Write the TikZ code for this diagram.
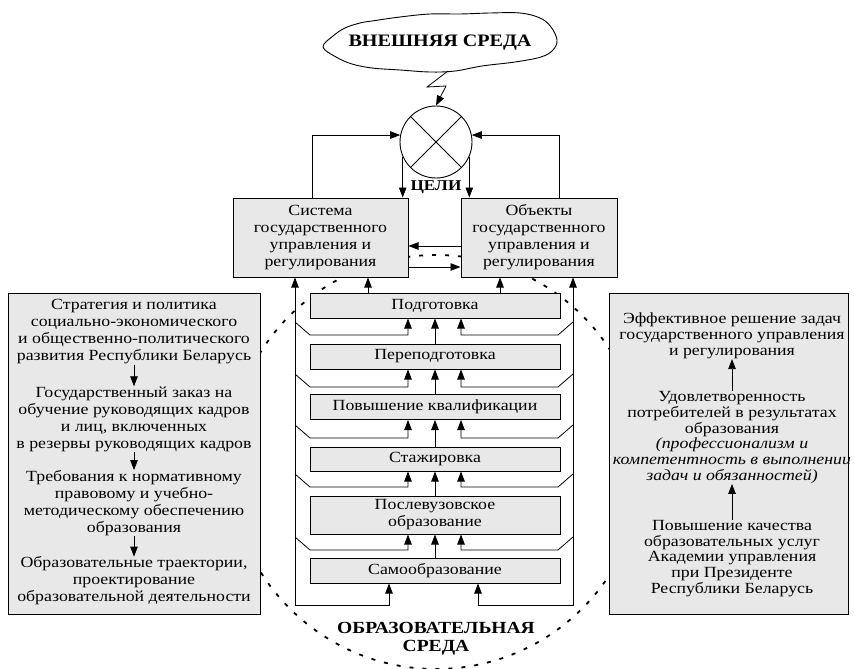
\documentclass[tikz,border=0pt]{standalone}
\usepackage{fontspec}
\setmainfont{Liberation Serif}[FakeStretch=1.15]
\usetikzlibrary{arrows.meta}
\newcommand\bodyfs{\fontsize{15.5}{17}\selectfont}
\newcommand\rightfs{\fontsize{15.5}{15.8}\selectfont}
\begin{document}
\begin{tikzpicture}[x=1pt,y=-1pt,
  ln/.style={line width=0.8pt},
  arr/.style={ln,-{Triangle[length=10pt,width=7.5pt]}},
  gbox/.style={draw,line width=1pt,fill=black!9,inner sep=0pt,align=center,font=\bodyfs},
  cbox/.style={gbox,minimum width=250pt,minimum height=25pt},
  txt/.style={inner sep=0pt,align=center,font=\bodyfs},
  rtxt/.style={inner sep=0pt,align=center,font=\rightfs},
  envdash/.style={line width=1.8pt,dash pattern=on 4pt off 9pt}]
\useasboundingbox (0,0) rectangle (854,669);

% educational environment (dashed circle)
\draw[envdash] (436,462) circle (207pt);

% external environment cloud
\draw[line width=0.9pt] plot[smooth cycle, tension=0.6] coordinates {(323,47) (333,36) (345,28) (360,23) (372,21) (400,17) (430,14) (460,14) (490,13) (520,13) (540,18) (551,27) (557,40) (553,50) (541,57) (515,62) (482,66) (455,71) (430,72) (400,70) (372,68) (352,64) (336,57)};
\node[font=\fontsize{17.5}{20}\selectfont\bfseries] (env) at (440,43) {ВНЕШНЯЯ СРЕДА};
\coordinate (cb) at (448,71);

% comparison circle
\node[draw,circle,minimum size=72pt,inner sep=0pt,line width=0.9pt] (cmp) at (436,142) {};
\draw[ln] (cmp.45) -- (cmp.225);
\draw[ln] (cmp.135) -- (cmp.315);
\draw[arr] (cb) -- (427,87) -- (446,86) -- (cmp.north);

% top boxes
\node[gbox,minimum width=175pt,minimum height=79pt] (sys) at (320.5,237.5) {Система\\государственного\\управления и\\регулирования};
\node[gbox,minimum width=156pt,minimum height=79pt] (obj) at (539,237.5) {Объекты\\государственного\\управления и\\регулирования};

\draw[arr] ([xshift=-8.5pt]sys.north) |- (cmp.169);
\draw[arr] ([xshift=20pt]obj.north) |- (cmp.11);
\draw[arr] (cmp.204) -- (cmp.204 |- sys.north);
\draw[arr] (cmp.336) -- (cmp.336 |- obj.north);
\node[font=\fontsize{15}{17}\selectfont\bfseries] (goals) at (436,187) {ЦЕЛИ};

\draw[arr] ([yshift=-8.5pt]obj.west) -- ([yshift=-8.5pt]sys.east);
\draw[arr] ([yshift=-29.5pt]sys.east) -- ([yshift=-29.5pt]obj.west);

% central column
\node[cbox] (c1) at (435,305.5) {Подготовка};
\node[cbox] (c2) at (435,356.5) {Переподготовка};
\node[cbox] (c3) at (435,407) {Повышение квалификации};
\node[cbox,minimum height=24pt] (c4) at (435,459) {Стажировка};
\node[cbox,minimum height=38pt] (c5) at (435,515) {Послевузовское\\образование};
\node[cbox] (c6) at (435,570.5) {Самообразование};

\coordinate (fl) at (295,605);
\coordinate (fr) at (573,605);
\coordinate (bl) at (389,605);
\coordinate (br) at (478,605);
\draw[arr] (bl) -- (fl) -- (fl |- sys.south);
\draw[arr] (fl) -- (bl) -- (bl |- c6.south);
\draw[arr] (br) -- (fr) -- (fr |- obj.south);
\draw[arr] (fr) -- (br) -- (br |- c6.south);

\foreach \u/\l/\g in {c1/c2/335, c2/c3/387, c3/c4/438, c4/c5/487, c5/c6/550} {
  \draw[arr] (295,\g-13) -- (310,\g) -| ([xshift=-27pt]\u.south);
  \draw[arr] (573,\g-13) -- (558,\g) -| ([xshift=26pt]\u.south);
  \draw[arr] (\l.north) -- (\u.south);
}
\draw[arr] ([xshift=-67pt]c1.north) -- ([xshift=-67pt]c1.north |- sys.south);
\draw[arr] ([xshift=65pt]c1.north) -- ([xshift=65pt]c1.north |- obj.south);

% left box
\node[gbox,minimum width=252pt,minimum height=321pt] (L) at (134,453.5) {};
\node[txt] (l1) at (134,332) {Стратегия и политика\\социально-экономического\\и общественно-политического\\развития Республики Беларусь};
\node[txt] (l2) at (134,419) {Государственный заказ на\\обучение руководящих кадров\\и лиц, включенных\\в резервы руководящих кадров};
\node[txt] (l3) at (134,503) {Требования к нормативному\\правовому и учебно-\\методическому обеспечению\\образования};
\node[txt] (l4) at (134,581) {Образовательные траектории,\\проектирование\\образовательной деятельности};
\draw[arr] (l1) -- (l2);
\draw[arr] (l2) -- (l3);
\draw[arr] (l3) -- (l4);

% right box
\node[gbox,minimum width=239pt,minimum height=321pt] (R) at (728.5,453.5) {};
\node[rtxt] (r1) at (732,336) {Эффективное решение задач\\государственного управления\\и регулирования};
\node[rtxt] (r2) at (732,437.5) {Удовлетворенность\\потребителей в результатах\\образования\\\textit{(профессионализм и}\\\textit{компетентность в выполнении}\\\textit{задач и обязанностей)}};
\node[rtxt] (r3) at (732,558.5) {Повышение качества\\образовательных услуг\\Академии управления\\при Президенте\\Республики Беларусь};
\draw[arr] (r2) -- (r1);
\draw[arr] (r3) -- (r2);

% bottom title
\node[font=\fontsize{17}{18}\selectfont\bfseries,align=center,inner sep=0pt] (edu) at (436,639) {ОБРАЗОВАТЕЛЬНАЯ\\СРЕДА};
\end{tikzpicture}
\end{document}
